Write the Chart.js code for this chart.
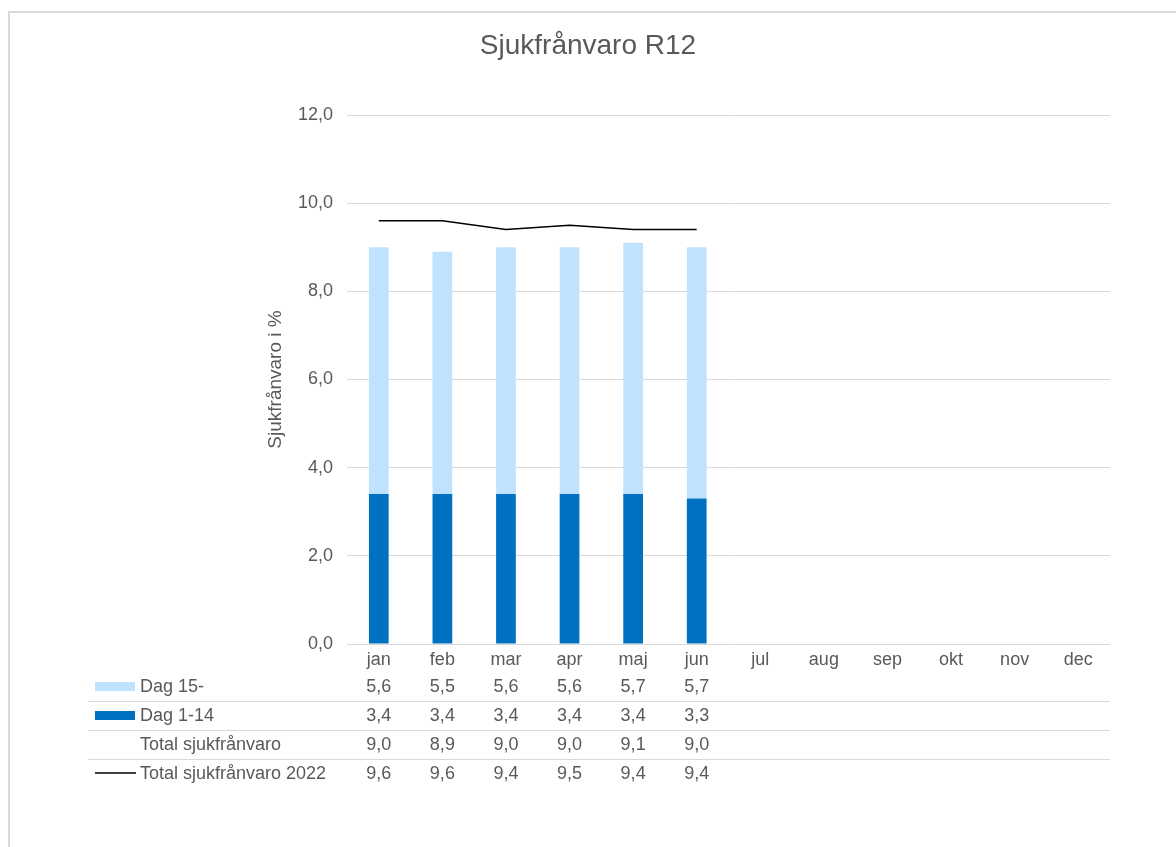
<!DOCTYPE html>
<html>
<head>
<meta charset="utf-8">
<script src="https://cdn.jsdelivr.net/npm/chart.js@4"></script>
<style>
  body { margin: 0; background: #fff; overflow: hidden; }
  #frame { position: absolute; left: 8px; top: 11px; width: 1200px; height: 900px; border: 2px solid #d9d9d9; }
  #wrap { position: absolute; left: 0; top: 0; width: 1176px; height: 847px; }
</style>
</head>
<body>
<div id="frame"></div>
<div id="wrap"><canvas id="chart"></canvas></div>
<script>
const months = ['jan', 'feb', 'mar', 'apr', 'maj', 'jun', 'jul', 'aug', 'sep', 'okt', 'nov', 'dec'];
const dag15 = [5.6, 5.5, 5.6, 5.6, 5.7, 5.7];
const dag114 = [3.4, 3.4, 3.4, 3.4, 3.4, 3.3];
const total = [9.0, 8.9, 9.0, 9.0, 9.1, 9.0];
const total2022 = [9.6, 9.6, 9.4, 9.5, 9.4, 9.4];

const textColor = '#595959';
const gridColor = '#d9d9d9';
const fontFamily = '"Liberation Sans", Arial, sans-serif';
const fmt = v => v.toFixed(1).replace('.', ',');

// rows of the data table under the chart
const tableRows = [
    { label: 'Dag 15-', values: dag15, key: 'box', color: '#bfe3ff' },
    { label: 'Dag 1-14', values: dag114, key: 'box', color: '#0070c0' },
    { label: 'Total sjukfrånvaro', values: total, key: 'none' },
    { label: 'Total sjukfrånvaro 2022', values: total2022, key: 'line', color: '#000000' }
];

const dataTable = {
    id: 'dataTable',
    afterDraw(chart) {
        const ctx = chart.ctx;
        const x = chart.scales.x;
        const right = chart.chartArea.right;
        const rowY = [687, 716, 745, 774];
        const sepY = [701, 730, 759];
        ctx.save();
        ctx.strokeStyle = gridColor;
        ctx.lineWidth = 1;
        sepY.forEach(y => {
            ctx.beginPath();
            ctx.moveTo(88, y + 0.5);
            ctx.lineTo(right, y + 0.5);
            ctx.stroke();
        });
        ctx.font = '18px ' + fontFamily;
        ctx.fillStyle = textColor;
        ctx.textBaseline = 'middle';
        tableRows.forEach((row, r) => {
            const y = rowY[r];
            if (row.key === 'box') {
                ctx.fillStyle = row.color;
                ctx.fillRect(95, y - 5, 40, 9);
            } else if (row.key === 'line') {
                ctx.strokeStyle = row.color;
                ctx.lineWidth = 1.5;
                ctx.beginPath();
                ctx.moveTo(95, y - 1);
                ctx.lineTo(136, y - 1);
                ctx.stroke();
            }
            ctx.fillStyle = textColor;
            ctx.textAlign = 'left';
            ctx.fillText(row.label, 140, y);
            ctx.textAlign = 'center';
            row.values.forEach((v, i) => {
                ctx.fillText(fmt(v), x.getPixelForValue(i), y);
            });
        });
        ctx.restore();
    }
};

new Chart(document.getElementById('chart'), {
    data: {
        labels: months,
        datasets: [
            {
                type: 'line',
                label: 'Total sjukfrånvaro 2022',
                data: total2022,
                borderColor: '#000000',
                borderWidth: 1.5,
                pointRadius: 0,
                tension: 0,
                stack: 'l2',
                order: 0
            },
            {
                type: 'line',
                label: 'Total sjukfrånvaro',
                data: total,
                borderColor: 'rgba(0,0,0,0)',
                pointRadius: 0,
                stack: 'l1',
                order: 1
            },
            {
                type: 'bar',
                label: 'Dag 1-14',
                data: dag114,
                backgroundColor: '#0070c0',
                stack: 'bars',
                categoryPercentage: 1,
                barPercentage: 0.31,
                order: 2
            },
            {
                type: 'bar',
                label: 'Dag 15-',
                data: dag15,
                backgroundColor: '#bfe3ff',
                stack: 'bars',
                categoryPercentage: 1,
                barPercentage: 0.31,
                order: 3
            }
        ]
    },
    options: {
        responsive: true,
        maintainAspectRatio: false,
        animation: false,
        layout: { padding: 0 },
        plugins: {
            legend: { display: false },
            tooltip: { enabled: false },
            title: {
                display: true,
                text: 'Sjukfrånvaro R12',
                color: textColor,
                font: { family: fontFamily, size: 28, weight: 'normal', lineHeight: 1.2 },
                padding: { top: 29, bottom: 52.4 }
            }
        },
        scales: {
            x: {
                stacked: true,
                grid: { display: false, drawTicks: false },
                border: { display: false },
                ticks: {
                    color: textColor,
                    font: { family: fontFamily, size: 18 },
                    padding: 5,
                    maxRotation: 0
                },
                afterFit(scale) { scale.height = 847 - 644; }
            },
            y: {
                stacked: true,
                min: 0,
                max: 12,
                grid: { color: gridColor, drawTicks: false, lineWidth: 1 },
                border: { display: false },
                ticks: {
                    stepSize: 2,
                    color: textColor,
                    font: { family: fontFamily, size: 18 },
                    padding: 14,
                    callback: v => fmt(v)
                },
                title: {
                    display: true,
                    text: 'Sjukfrånvaro i %',
                    color: textColor,
                    font: { family: fontFamily, size: 19, lineHeight: 1.2 },
                    padding: { top: 264, bottom: 0 }
                },
                afterFit(scale) { scale.width = 347; }
            },
            // empty right-hand axis that only reserves the margin right of the plot
            yRight: {
                position: 'right',
                display: true,
                min: 0,
                max: 12,
                grid: { display: false, drawTicks: false },
                border: { display: false },
                ticks: { display: false },
                afterFit(scale) { scale.width = 66; }
            }
        }
    },
    plugins: [dataTable]
});
</script>
</body>
</html>
